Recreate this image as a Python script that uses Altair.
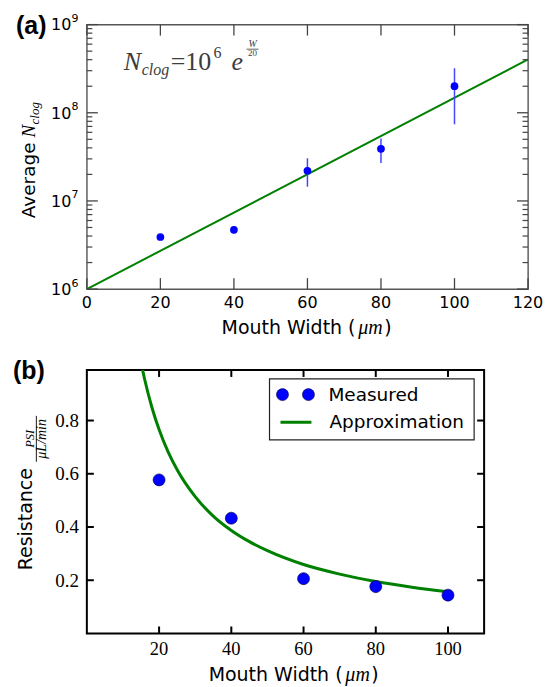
import altair as alt
import pandas as pd

# ---------------- panel (a) data ----------------
a_width = [20, 40, 60, 80, 100]
a_nclog = [3.9e6, 4.7e6, 2.2e7, 3.9e7, 2.0e8]
a_err_lo = [3.75e6, 4.3e6, 1.45e7, 2.7e7, 7.4e7]
a_err_hi = [4.05e6, 5.2e6, 3.05e7, 5.1e7, 3.2e8]
a_fit_width = [0, 120]
a_fit_nclog = [1.0e6, 4.03e8]
a_xticks = [0, 20, 40, 60, 80, 100, 120]
a_xlabels = ["0", "20", "40", "60", "80", "100", "120"]
a_yticks = [1e6, 1e7, 1e8, 1e9]
a_ylabel_base = ["10", "10", "10", "10"]
a_ylabel_exp = ["6", "7", "8", "9"]
a_yminor = [2e6, 3e6, 4e6, 5e6, 6e6, 7e6, 8e6, 9e6,
            2e7, 3e7, 4e7, 5e7, 6e7, 7e7, 8e7, 9e7,
            2e8, 3e8, 4e8, 5e8, 6e8, 7e8, 8e8, 9e8]

# ---------------- panel (b) data ----------------
b_width = [20, 40, 60, 80, 100]
b_resist = [0.577, 0.433, 0.206, 0.176, 0.144]
b_fit_width = [15, 16, 18, 20, 22.5, 25, 30, 35, 40, 45, 50, 60, 70, 80, 90, 100]
b_fit_resist = [1.018, 0.955, 0.850, 0.766, 0.682, 0.615, 0.514, 0.441, 0.387, 0.345,
                0.311, 0.259, 0.223, 0.195, 0.174, 0.157]
b_xticks = [20, 40, 60, 80, 100]
b_xlabels = ["20", "40", "60", "80", "100"]
b_yticks = [0.2, 0.4, 0.6, 0.8]
b_ylabels = ["0.2", "0.4", "0.6", "0.8"]

BLUE = "#0000ff"
GREEN = "#008000"
SANS = "DejaVu Sans"
SERIF = "Liberation Serif"
ONE = pd.DataFrame({"k": [0]})


def txt(s, x, y, size, font=SANS, style="normal", weight="normal", align="left",
        angle=0, color="black", baseline="alphabetic"):
    return alt.Chart(ONE).mark_text(
        text=s, fontSize=size, font=font, fontStyle=style, fontWeight=weight,
        align=align, baseline=baseline, angle=angle, color=color
    ).encode(x=alt.value(x), y=alt.value(y))


def hrule(x0, x1, y, color, w):
    return alt.Chart(ONE).mark_rule(color=color, strokeWidth=w).encode(
        x=alt.value(x0), x2=alt.value(x1), y=alt.value(y))


def vrule(x, y0, y1, color, w):
    return alt.Chart(ONE).mark_rule(color=color, strokeWidth=w).encode(
        x=alt.value(x), y=alt.value(y0), y2=alt.value(y1))


def xticks(vals, scale, y0, y1, color, w):
    return alt.Chart(pd.DataFrame({"v": vals})).mark_rule(color=color, strokeWidth=w).encode(
        x=alt.X("v:Q", scale=scale, axis=None), y=alt.value(y0), y2=alt.value(y1))


def yticks(vals, scale, x0, x1, color, w):
    return alt.Chart(pd.DataFrame({"v": vals})).mark_rule(color=color, strokeWidth=w).encode(
        y=alt.Y("v:Q", scale=scale, axis=None), x=alt.value(x0), x2=alt.value(x1))


def xlabels(vals, labs, scale, y, size, font):
    return alt.Chart(pd.DataFrame({"v": vals, "t": labs})).mark_text(
        fontSize=size, font=font, align="center", baseline="alphabetic", color="black"
    ).encode(x=alt.X("v:Q", scale=scale, axis=None), y=alt.value(y), text="t:N")


def ylabels(vals, labs, scale, x, size, font, dy, align="right"):
    return alt.Chart(pd.DataFrame({"v": vals, "t": labs})).mark_text(
        fontSize=size, font=font, align=align, baseline="alphabetic", color="black", dy=dy
    ).encode(y=alt.Y("v:Q", scale=scale, axis=None), x=alt.value(x), text="t:N")


# ================= panel (a) =================
WA, HA = 442, 265
xa = alt.Scale(domain=[0, 120], nice=False, zero=False)
ya = alt.Scale(type="log", domain=[1e6, 1e9], nice=False)

fit_a = alt.Chart(pd.DataFrame({"w": a_fit_width, "n": a_fit_nclog})).mark_line(
    color=GREEN, strokeWidth=2, clip=True
).encode(x=alt.X("w:Q", scale=xa, axis=None), y=alt.Y("n:Q", scale=ya, axis=None))
df_a = pd.DataFrame({"w": a_width, "n": a_nclog, "lo": a_err_lo, "hi": a_err_hi})
err_a = alt.Chart(df_a).mark_rule(color="#4646ff", strokeWidth=1.5).encode(
    x=alt.X("w:Q", scale=xa, axis=None), y=alt.Y("lo:Q", scale=ya, axis=None), y2="hi:Q")
pts_a = alt.Chart(df_a).mark_circle(color=BLUE, size=60, opacity=1).encode(
    x=alt.X("w:Q", scale=xa, axis=None), y=alt.Y("n:Q", scale=ya, axis=None))

TC = "#444444"
ticks_a = [
    xticks(a_xticks, xa, HA, HA - 11, TC, 1.3),
    xticks(a_xticks, xa, 0, 11, TC, 1.3),
    yticks(a_yticks, ya, 0, 11, TC, 1.3),
    yticks(a_yticks, ya, WA, WA - 11, TC, 1.3),
    yticks(a_yminor, ya, 0, 5.5, TC, 1.2),
    yticks(a_yminor, ya, WA, WA - 5.5, TC, 1.2),
    xlabels(a_xticks, a_xlabels, xa, HA + 19, 16, SANS),
    ylabels(a_yticks, a_ylabel_base, ya, -15.5, 16, SANS, 5.8),
    ylabels(a_yticks, a_ylabel_exp, ya, -15.5, 11, SANS, -2.5, align="left"),
]

EQ = "#3c3c3c"
text_a = [
    txt("(a)", -71, 9, 25, font="Liberation Sans", weight="bold"),
    # equation N_clog = 10^6 e^(W/20)
    txt("N", 37, 45.5, 26, font=SERIF, style="italic", color=EQ),
    txt("clog", 55, 50, 16, font=SERIF, style="italic", color=EQ),
    txt("=10", 84, 45.5, 26, font=SERIF, color=EQ),
    txt("6", 127, 33, 16, font=SERIF, color=EQ),
    txt("e", 145, 45.5, 26, font=SERIF, style="italic", color=EQ),
    txt("W", 166, 22, 10, font=SERIF, style="italic", color=EQ, align="center"),
    hrule(160, 172, 24.6, EQ, 0.8),
    txt("20", 166, 31.5, 9, font=SERIF, color=EQ, align="center"),
    # y title
    txt("Average", -52, 194, 18.5, angle=270),
    txt("N", -52, 113, 19, font=SERIF, style="italic", angle=270),
    txt("clog", -48, 100, 13, font=SERIF, style="italic", angle=270),
    # x title
    txt("Mouth Width (", 135, HA + 45, 19),
    txt("μm", 272, HA + 45, 20, font=SERIF, style="italic"),
    txt(")", 298, HA + 45, 19),
]

panel_a = alt.layer(fit_a, err_a, pts_a, *ticks_a, *text_a).properties(
    width=WA, height=HA, view=alt.ViewBackground(stroke="#555555", strokeWidth=1.4))

# ================= panel (b) =================
WB, HB = 398, 264
xb = alt.Scale(domain=[0, 110], nice=False, zero=False)
yb = alt.Scale(domain=[0, 0.99], nice=False, zero=False)

fit_b = alt.Chart(pd.DataFrame({"w": b_fit_width, "r": b_fit_resist})).mark_line(
    color=GREEN, strokeWidth=3, clip=True, interpolate="monotone"
).encode(x=alt.X("w:Q", scale=xb, axis=None), y=alt.Y("r:Q", scale=yb, axis=None))
pts_b = alt.Chart(pd.DataFrame({"w": b_width, "r": b_resist})).mark_circle(
    color=BLUE, size=145, opacity=1, stroke="#000044", strokeWidth=0.6
).encode(x=alt.X("w:Q", scale=xb, axis=None), y=alt.Y("r:Q", scale=yb, axis=None))

ticks_b = [
    xticks(b_xticks, xb, HB, HB - 7, "black", 2),
    xticks(b_xticks, xb, 0, 7, "black", 2),
    yticks(b_yticks, yb, 0, 7, "black", 2),
    yticks(b_yticks, yb, WB, WB - 7, "black", 2),
    xlabels(b_xticks, b_xlabels, xb, HB + 21.5, 18.5, SERIF),
    ylabels(b_yticks, b_ylabels, yb, -8, 19, SERIF, 6.3),
]

legend_box = alt.Chart(ONE).mark_rect(fill="white", stroke="#222222", strokeWidth=1.2).encode(
    x=alt.value(183), x2=alt.value(388), y=alt.value(9), y2=alt.value(70))
legend_pts = alt.Chart(pd.DataFrame({"px": [196, 222]})).mark_circle(
    color=BLUE, size=145, opacity=1, stroke="#000044", strokeWidth=0.6
).encode(x=alt.X("px:Q", scale=None), y=alt.value(24.7))

text_b = [
    txt("(b)", -74, 9, 25, font="Liberation Sans", weight="bold"),
    legend_box,
    legend_pts,
    hrule(194, 225, 52.4, GREEN, 3),
    txt("Measured", 242, 31.4, 18.5),
    txt("Approximation", 243, 58, 18.5),
    # y title
    txt("Resistance", -54.7, 200.7, 19, angle=270),
    txt("PSI", -52.5, 69, 12.5, font=SERIF, style="italic", angle=270, align="center"),
    vrule(-50.6, 46, 92, "black", 0.9),
    txt("μL/min", -40.5, 69, 14, font=SERIF, style="italic", angle=270, align="center"),
    # x title
    txt("Mouth Width (", 122, HB + 48, 19),
    txt("μm", 259, HB + 48, 20, font=SERIF, style="italic"),
    txt(")", 285, HB + 48, 19),
]

panel_b = alt.layer(fit_b, pts_b, *ticks_b, *text_b).properties(
    width=WB, height=HB, view=alt.ViewBackground(stroke="black", strokeWidth=2))

chart = alt.vconcat(panel_a, panel_b, spacing=19).configure(
    background="white", padding={"left": 4, "top": 3, "right": 0, "bottom": 0})
chart.save("out.html", embed_options={"renderer": "svg", "actions": False})
